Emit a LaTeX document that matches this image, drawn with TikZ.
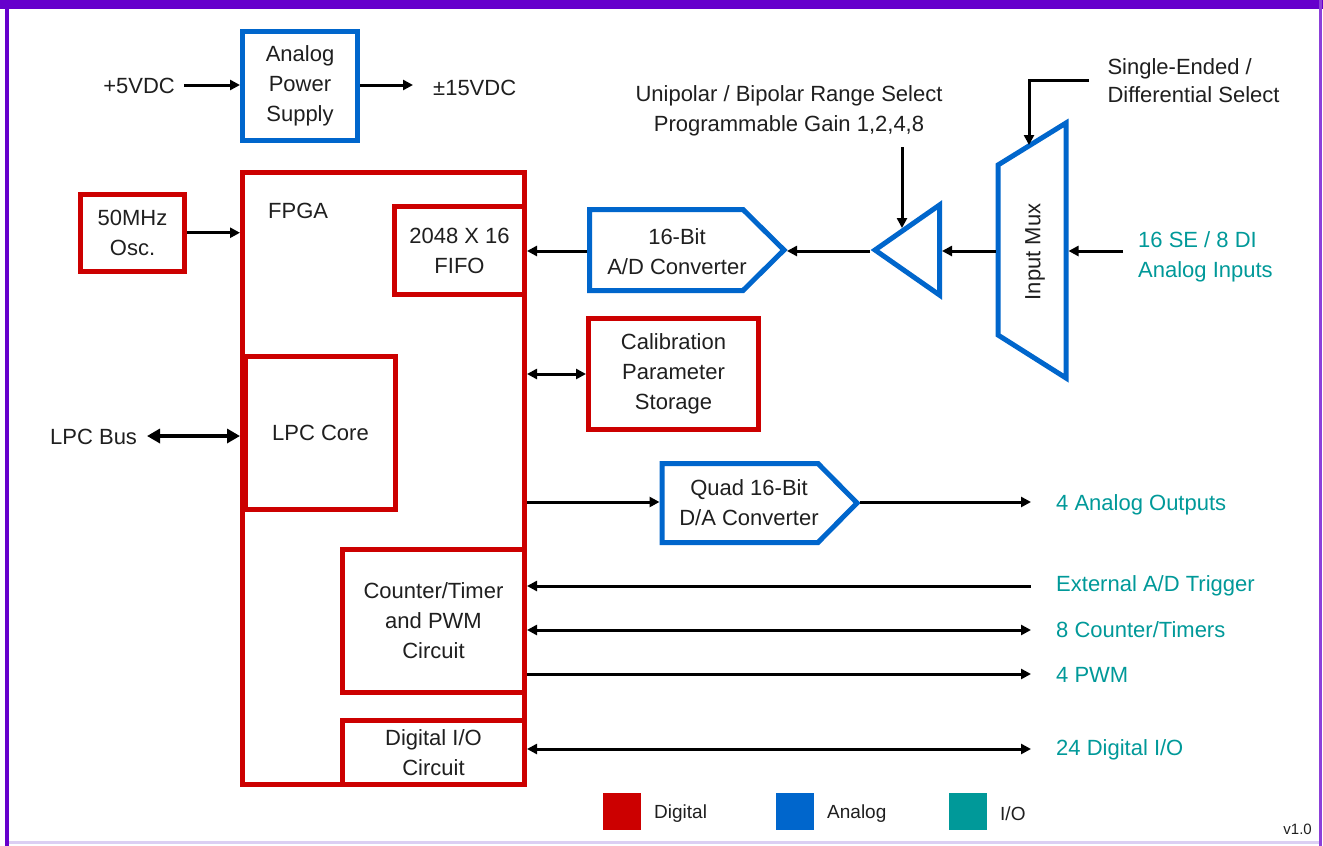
\documentclass[tikz,border=0pt]{standalone}
\usepackage{fontspec}
\setmainfont{Liberation Sans}
\usetikzlibrary{arrows.meta,calc}
\definecolor{dred}{HTML}{CC0000}
\definecolor{dblue}{HTML}{0066CC}
\definecolor{dteal}{HTML}{009999}
\definecolor{dpurple}{HTML}{6600CC}
\definecolor{dlav}{HTML}{DCCFF3}
\begin{document}
\begin{tikzpicture}[x=1pt,y=-1pt,
  every node/.style={font=\fontsize{22}{30}\selectfont, align=center, text=black!88},
  dbox/.style={draw=dred, line width=5pt, inner sep=0pt, rectangle},
  abox/.style={draw=dblue, line width=5pt, inner sep=0pt, rectangle},
  ashape/.style={draw=dblue, line width=5pt, line join=miter},
  arr/.style={line width=3pt, -{Triangle[length=10pt,width=10pt]}},
  darr/.style={line width=3pt, {Triangle[length=10pt,width=10pt]}-{Triangle[length=10pt,width=10pt]}},
  larr/.style={line width=3pt, {Triangle[length=10pt,width=10pt]}-},
  lbl/.style={inner sep=0pt},
  io/.style={text=dteal, anchor=west, inner sep=0pt, align=left},
  leg/.style={font=\fontsize{19}{22}\selectfont, anchor=west, inner sep=0pt},
]
\useasboundingbox (0,0) rectangle (1323,846);
\fill[white] (0,0) rectangle (1323,846);
% frame
\fill[dpurple] (0,0) rectangle (1323,9);
\fill[dpurple] (5,0) rectangle (9,846);
\fill[dpurple!75] (1319,0) rectangle (1322,846);
\fill[dlav] (9,841) rectangle (1319,844);

% power supply
\node[abox, minimum width=115pt, minimum height=109pt] (aps) at (300,86) {Analog\\Power\\Supply};
\node[lbl, anchor=east] (p5) at (175,86) {+5VDC};
\node[lbl, anchor=west] (p15) at (433,88) {±15VDC};
\coordinate (p5E) at (184,85);
\coordinate (p15W) at (413,85);
\draw[arr] (p5E) -- (aps.west |- p5E);
\draw[arr] (aps.east |- p15W) -- (p15W);

% FPGA and inner blocks
\node[dbox, minimum width=282pt, minimum height=611.5pt] (fpga) at (383.5,478.25) {};
\node[lbl, anchor=west] (fpgat) at (268,211) {FPGA};
\node[dbox, minimum width=130pt, minimum height=88pt] (fifo) at (459.5,250.5) {2048 X 16\\FIFO};
\node[dbox, minimum width=150pt, minimum height=153pt] (lpc) at (320.5,433) {LPC Core};
\node[dbox, minimum width=182pt, minimum height=143pt] (ctr) at (433.5,621) {Counter/Timer\\and PWM\\Circuit};
\node[dbox, minimum width=182pt, minimum height=63.5pt] (dio) at (433.5,752.25) {Digital I/O\\Circuit};
\node[dbox, minimum width=104pt, minimum height=77.5pt] (osc) at (132.5,232.75) {50MHz\\Osc.};
\node[dbox, minimum width=170pt, minimum height=111pt] (cal) at (673.5,374) {Calibration\\Parameter\\Storage};

\draw[arr] (osc.east) -- (fpga.west |- osc.east);
\node[lbl, anchor=west] (lpcbus) at (50,437) {LPC Bus};
\coordinate (lbE) at (147,436);
\draw[line width=4pt, {Triangle[length=13pt,width=14pt]}-{Triangle[length=13pt,width=14pt]}] (lbE) -- (fpga.west |- lbE);
\draw[darr] (fpga.east |- cal.west) -- (cal.west);

% A/D converter
\draw[ashape] (589.5,209.5) -- (743,209.5) -- (784,250) -- (743,290.5) -- (589.5,290.5) -- cycle;
\node (adc) at (677,252) {16-Bit\\A/D Converter};
\coordinate (adcW) at (587,251);
\coordinate (adcE) at (787,251);
\draw[arr] (adcW) -- (fifo.east |- adcW);

% amplifier
\draw[ashape] (875,250) -- (939.5,205) -- (939.5,295) -- cycle;
\coordinate (ampW) at (870,251);
\coordinate (ampE) at (942,251);
\draw[arr] (ampW) -- (adcE);
\node (gain) at (789,111) {Unipolar / Bipolar Range Select\\Programmable Gain 1,2,4,8};
\coordinate (gTop) at (902,147);
\coordinate (gBot) at (902,228);
\draw[arr] (gTop) -- (gBot);

% input mux
\draw[ashape] (998,165) -- (1066,123) -- (1066,378) -- (998,335) -- cycle;
\node[rotate=90] (muxt) at (1035,252) {Input Mux};
\coordinate (muxW) at (995.5,251);
\coordinate (muxE) at (1068.5,251);
\draw[arr] (muxW) -- (ampE);
\node[anchor=west, align=left, font=\fontsize{22}{28}\selectfont] (se) at (1104,81) {Single-Ended /\\Differential Select};
\coordinate (seS) at (1089,80);
\coordinate (seC) at (1029,80);
\coordinate (seE) at (1029,145);
\draw[arr] (seS) -- (seC) -- (seE);
\node[io] (ain) at (1138,257) {16 SE / 8 DI\\Analog Inputs};
\coordinate (ainS) at (1123,251);
\draw[arr] (ainS) -- (muxE);

% D/A converter
\draw[ashape] (662,463.5) -- (818,463.5) -- (857,503) -- (818,542.5) -- (662,542.5) -- cycle;
\node (dac) at (749,503) {Quad 16-Bit\\D/A Converter};
\coordinate (dacW) at (659.5,502);
\coordinate (dacE) at (860,502);
\draw[arr] (fpga.east |- dacW) -- (dacW);

% I/O outputs
\node[io] (ao) at (1056,505) {4 Analog Outputs};
\node[io] (ext) at (1056,586) {External A/D Trigger};
\node[io] (ct) at (1056,630) {8 Counter/Timers};
\node[io] (pwm) at (1056,675) {4 PWM};
\node[io] (dig) at (1056,750) {24 Digital I/O};
\coordinate (aoE) at (1031,502);
\coordinate (extE) at (1031,586);
\coordinate (ctE) at (1031,630);
\coordinate (pwmE) at (1031,674);
\coordinate (digE) at (1031,749);
\draw[arr] (dacE) -- (aoE);
\draw[larr] (fpga.east |- extE) -- (extE);
\draw[darr] (fpga.east |- ctE) -- (ctE);
\draw[arr] (fpga.east |- pwmE) -- (pwmE);
\draw[darr] (fpga.east |- digE) -- (digE);

% legend
\fill[dred] (603,793) rectangle (641,830);
\node[leg] (lgd) at (654,814) {Digital};
\fill[dblue] (776,793) rectangle (814,830);
\node[leg] (lga) at (827,814) {Analog};
\fill[dteal] (949,793) rectangle (987,830);
\node[leg] (lgi) at (1000,814) {I/O};
\node[lbl, anchor=east, font=\fontsize{15}{18}\selectfont] (ver) at (1312,829) {v1.0};
\end{tikzpicture}
\end{document}
